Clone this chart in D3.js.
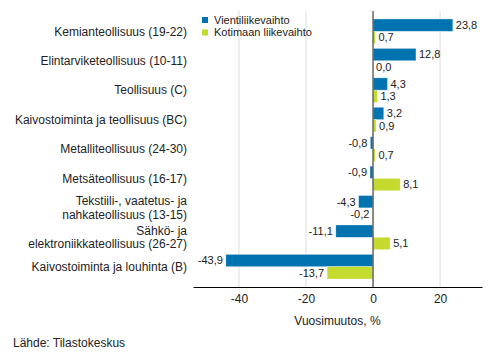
<!DOCTYPE html>
<html>
<head>
<meta charset="utf-8">
<script src="https://cdn.jsdelivr.net/npm/d3@7"></script>
<style>
  body { margin: 0; background: #fff; }
  text { font-family: Arial, "Liberation Sans", sans-serif; fill: #222; }
</style>
</head>
<body>
<div id="chart"></div>
<script>
// data
var categories = [
    ["Kemianteollisuus (19-22)"],
    ["Elintarviketeollisuus (10-11)"],
    ["Teollisuus (C)"],
    ["Kaivostoiminta ja teollisuus (BC)"],
    ["Metalliteollisuus (24-30)"],
    ["Metsäteollisuus (16-17)"],
    ["Tekstiili-, vaatetus- ja", "nahkateollisuus (13-15)"],
    ["Sähkö- ja", "elektroniikkateollisuus (26-27)"],
    ["Kaivostoiminta ja louhinta (B)"]
];
var vienti = [23.8, 12.8, 4.3, 3.2, -0.8, -0.9, -4.3, -11.1, -43.9];
var kotimaa = [0.7, 0.0, 1.3, 0.9, 0.7, 8.1, -0.2, 5.1, -13.7];
var seriesNames = ["Vientiliikevaihto", "Kotimaan liikevaihto"];
var xTicks = [-40, -20, 0, 20];

var colors = ["#0073b0", "#c5da2f"];

var W = 493, H = 360;
var plotL = 193, plotR = 482, plotT = 11, plotB = 287;

var svg = d3.select("#chart").append("svg")
    .attr("width", W)
    .attr("height", H);

var x = d3.scaleLinear().domain([-53.7, 32.5]).range([plotL, plotR]);
var y = d3.scaleBand()
    .domain(d3.range(categories.length))
    .range([plotT, plotB])
    .paddingInner(0)
    .paddingOuter(0.19);

var barH = 12.3;

// grid lines
svg.append("g").selectAll("line")
    .data(xTicks.filter(function(d) { return d !== 0; }))
    .enter().append("line")
    .attr("x1", function(d) { return x(d); })
    .attr("x2", function(d) { return x(d); })
    .attr("y1", plotT)
    .attr("y2", plotB)
    .attr("stroke", "#dcdcdc")
    .attr("stroke-width", 1);

// rows of data for both series
var rows = [];
categories.forEach(function(c, i) {
    rows.push({ i: i, s: 0, v: vienti[i] });
    rows.push({ i: i, s: 1, v: kotimaa[i] });
});

function barY(d) {
    var c = y(d.i) + y.bandwidth() / 2;
    return d.s === 0 ? c - barH : c;
}

svg.append("g").selectAll("rect")
    .data(rows)
    .enter().append("rect")
    .attr("x", function(d) { return x(Math.min(0, d.v)); })
    .attr("y", barY)
    .attr("width", function(d) { return Math.abs(x(d.v) - x(0)); })
    .attr("height", barH)
    .attr("fill", function(d) { return colors[d.s]; })
    .attr("stroke", "#fff")
    .attr("stroke-opacity", 0.5)
    .attr("stroke-width", 0.6);

// zero line
svg.append("line")
    .attr("x1", x(0)).attr("x2", x(0))
    .attr("y1", plotT).attr("y2", plotB)
    .attr("stroke", "#666")
    .attr("stroke-width", 1.5);

// value labels
svg.append("g").selectAll("text")
    .data(rows)
    .enter().append("text")
    .attr("x", function(d) { return d.v < 0 ? x(d.v) - 3 : x(d.v) + 3; })
    .attr("y", function(d) { return barY(d) + barH / 2; })
    .attr("dy", "0.35em")
    .attr("text-anchor", function(d) { return d.v < 0 ? "end" : "start"; })
    .style("font-size", "11px")
    .text(function(d) { return d3.format(".1f")(d.v).replace(".", ",").replace("−", "-"); });

// category labels
var cat = svg.append("g").selectAll("text")
    .data(categories)
    .enter().append("text")
    .attr("x", 187)
    .attr("y", function(d, i) { return y(i) + y.bandwidth() / 2; })
    .attr("text-anchor", "end")
    .style("font-size", "12px");
cat.each(function(d) {
    var t = d3.select(this);
    var n = d.length;
    d.forEach(function(line, k) {
        t.append("tspan")
            .attr("x", 187)
            .attr("dy", k === 0 ? ((0.35 - (n - 1) * 0.55) + "em") : "1.1em")
            .text(line);
    });
});

// x axis
var xAxis = svg.append("g")
    .attr("transform", "translate(0," + plotB + ")")
    .call(d3.axisBottom(x).tickValues(xTicks).tickSize(0).tickPadding(7)
        .tickFormat(function(d) { return d3.format("d")(d).replace("−", "-"); }));
xAxis.select(".domain").attr("stroke", "#000").attr("stroke-width", 1.2);
xAxis.selectAll("text")
    .style("font-size", "12px")
    .style("font-family", "Arial, 'Liberation Sans', sans-serif")
    .attr("fill", "#222");

svg.append("text")
    .attr("x", (plotL + plotR) / 2)
    .attr("y", 325)
    .attr("text-anchor", "middle")
    .style("font-size", "12px")
    .text("Vuosimuutos, %");

// legend
seriesNames.forEach(function(name, k) {
    svg.append("rect")
        .attr("x", 202).attr("y", 17 + k * 12.5)
        .attr("width", 6).attr("height", 6)
        .attr("fill", colors[k]);
    svg.append("text")
        .attr("x", 214).attr("y", 20 + k * 12.5)
        .attr("dy", "0.35em")
        .style("font-size", "11px")
        .text(name);
});

svg.append("text")
    .attr("x", 13)
    .attr("y", 347)
    .style("font-size", "12px")
    .text("Lähde: Tilastokeskus");
</script>
</body>
</html>
